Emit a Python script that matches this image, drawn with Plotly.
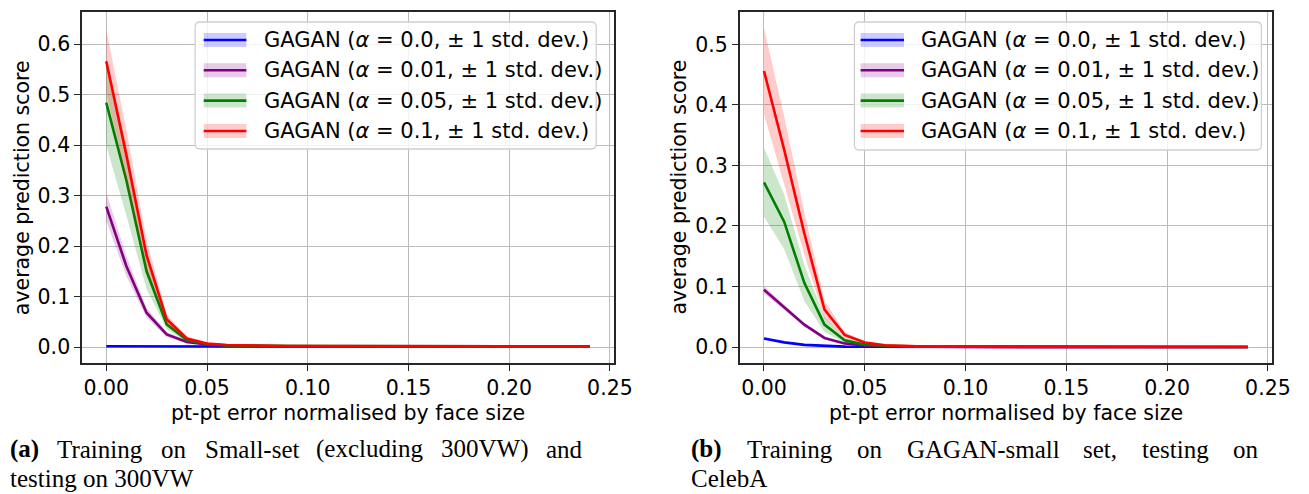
import plotly.graph_objects as go

W, H = 1309, 494

# ---------------- data ----------------
x_err = [0.00, 0.01, 0.02, 0.03, 0.04, 0.05, 0.06, 0.07, 0.08, 0.09, 0.10, 0.11, 0.12,
         0.13, 0.14, 0.15, 0.16, 0.17, 0.18, 0.19, 0.20, 0.21, 0.22, 0.23, 0.24]

labels = ["GAGAN (<i>α</i> = 0.0, ± 1 std. dev.)",
          "GAGAN (<i>α</i> = 0.01, ± 1 std. dev.)",
          "GAGAN (<i>α</i> = 0.05, ± 1 std. dev.)",
          "GAGAN (<i>α</i> = 0.1, ± 1 std. dev.)"]

# (a) 300VW
a_mean_00 = [0.0015, 0.0012, 0.0010, 0.0010, 0.0010, 0.0010, 0.0010, 0.0010, 0.0010, 0.0010, 0.0010, 0.0010, 0.0010,
             0.0010, 0.0010, 0.0010, 0.0010, 0.0010, 0.0010, 0.0010, 0.0010, 0.0010, 0.0010, 0.0010, 0.0010]
a_std_00 = [0.0006, 0.0005, 0.0004, 0.0004, 0.0004, 0.0004, 0.0004, 0.0004, 0.0004, 0.0004, 0.0004, 0.0004, 0.0004,
            0.0004, 0.0004, 0.0004, 0.0004, 0.0004, 0.0004, 0.0004, 0.0004, 0.0004, 0.0004, 0.0004, 0.0004]
a_mean_01 = [0.278, 0.160, 0.068, 0.025, 0.010, 0.005, 0.003, 0.002, 0.002, 0.0015, 0.0015, 0.0015, 0.0015,
             0.0012, 0.0012, 0.0012, 0.0012, 0.0011, 0.0011, 0.0011, 0.0010, 0.0010, 0.0010, 0.0010, 0.0010]
a_std_01 = [0.028, 0.020, 0.010, 0.005, 0.003, 0.002, 0.001, 0.0008, 0.0006, 0.0005, 0.0005, 0.0005, 0.0005,
            0.0004, 0.0004, 0.0004, 0.0004, 0.0004, 0.0004, 0.0004, 0.0004, 0.0004, 0.0004, 0.0004, 0.0004]
a_mean_05 = [0.484, 0.330, 0.150, 0.045, 0.014, 0.006, 0.003, 0.0025, 0.002, 0.002, 0.0018, 0.0018, 0.0018,
             0.0016, 0.0015, 0.0015, 0.0014, 0.0014, 0.0013, 0.0013, 0.0012, 0.0012, 0.0012, 0.0012, 0.0012]
a_std_05 = [0.085, 0.070, 0.035, 0.010, 0.004, 0.002, 0.001, 0.0008, 0.0006, 0.0005, 0.0005, 0.0005, 0.0005,
            0.0004, 0.0004, 0.0004, 0.0004, 0.0004, 0.0004, 0.0004, 0.0004, 0.0004, 0.0004, 0.0004, 0.0004]
a_mean_10 = [0.566, 0.380, 0.182, 0.055, 0.017, 0.007, 0.004, 0.003, 0.0025, 0.002, 0.002, 0.002, 0.002,
             0.0018, 0.0017, 0.0016, 0.0015, 0.0015, 0.0014, 0.0014, 0.0013, 0.0013, 0.0013, 0.0013, 0.0013]
a_std_10 = [0.062, 0.050, 0.030, 0.010, 0.004, 0.002, 0.001, 0.0008, 0.0006, 0.0005, 0.0005, 0.0005, 0.0005,
            0.0004, 0.0004, 0.0004, 0.0004, 0.0004, 0.0004, 0.0004, 0.0004, 0.0004, 0.0004, 0.0004, 0.0004]

# (b) CelebA
b_mean_00 = [0.0142, 0.0077, 0.0035, 0.0015, 0.0007, 0.0004, 0.0003, 0.0002, 0.0002, 0.0001, 0.0001, 0.0001, 0.0001,
             0.0001, 0.0001, 0.0001, 0.0001, 0.0001, 0.0001, 0.0001, 0.0001, 0.0001, 0.0001, 0.0001, 0.0001]
b_std_00 = [0.0020, 0.0012, 0.0006, 0.0003, 0.0002, 0.0001, 0.0001, 0.0001, 0.0001, 0.0001, 0.0001, 0.0001, 0.0001,
            0.0001, 0.0001, 0.0001, 0.0001, 0.0001, 0.0001, 0.0001, 0.0001, 0.0001, 0.0001, 0.0001, 0.0001]
b_mean_01 = [0.0945, 0.066, 0.037, 0.015, 0.006, 0.0025, 0.0012, 0.0006, 0.0004, 0.0003, 0.0002, 0.0002, 0.0002,
             0.0002, 0.0001, 0.0001, 0.0001, 0.0001, 0.0001, 0.0001, 0.0001, 0.0001, 0.0001, 0.0001, 0.0001]
b_std_01 = [0.006, 0.005, 0.003, 0.0015, 0.0008, 0.0004, 0.0002, 0.0001, 0.0001, 0.0001, 0.0001, 0.0001, 0.0001,
            0.0001, 0.0001, 0.0001, 0.0001, 0.0001, 0.0001, 0.0001, 0.0001, 0.0001, 0.0001, 0.0001, 0.0001]
b_mean_05 = [0.272, 0.207, 0.106, 0.037, 0.011, 0.004, 0.002, 0.001, 0.0006, 0.0004, 0.0003, 0.0002, 0.0002,
             0.0002, 0.0001, 0.0001, 0.0001, 0.0001, 0.0001, 0.0001, 0.0001, 0.0001, 0.0001, 0.0001, 0.0001]
b_std_05 = [0.057, 0.045, 0.030, 0.012, 0.004, 0.0015, 0.0008, 0.0004, 0.0002, 0.0001, 0.0001, 0.0001, 0.0001,
            0.0001, 0.0001, 0.0001, 0.0001, 0.0001, 0.0001, 0.0001, 0.0001, 0.0001, 0.0001, 0.0001, 0.0001]
b_mean_10 = [0.456, 0.326, 0.188, 0.062, 0.020, 0.0076, 0.003, 0.0015, 0.0008, 0.0005, 0.0003, 0.0002, 0.0002,
             0.0002, 0.0001, 0.0001, 0.0001, 0.0001, 0.0001, 0.0001, 0.0001, 0.0001, 0.0001, 0.0001, 0.0001]
b_std_10 = [0.071, 0.055, 0.035, 0.015, 0.005, 0.002, 0.001, 0.0005, 0.0003, 0.0002, 0.0001, 0.0001, 0.0001,
            0.0001, 0.0001, 0.0001, 0.0001, 0.0001, 0.0001, 0.0001, 0.0001, 0.0001, 0.0001, 0.0001, 0.0001]

x_ticks = [0.00, 0.05, 0.10, 0.15, 0.20, 0.25]
a_y_ticks = [0.0, 0.1, 0.2, 0.3, 0.4, 0.5, 0.6]
b_y_ticks = [0.0, 0.1, 0.2, 0.3, 0.4, 0.5]

x_title = "pt-pt error normalised by face size"
y_title = "average prediction score"

# ---------------- style ----------------
line_colors = ["#0000ff", "#800080", "#008000", "#ff0000"]
band_colors = ["rgba(0,0,255,0.2)", "rgba(128,0,128,0.2)", "rgba(0,128,0,0.2)", "rgba(255,0,0,0.2)"]
SANS = "DejaVu Sans"
SERIF = "Liberation Serif"


def px(x):
    return x / W


def py(y):
    return 1 - y / H


fig = go.Figure()

panels = [
    dict(xa="x", ya="y",
         means=[a_mean_00, a_mean_01, a_mean_05, a_mean_10],
         stds=[a_std_00, a_std_01, a_std_05, a_std_10]),
    dict(xa="x2", ya="y2",
         means=[b_mean_00, b_mean_01, b_mean_05, b_mean_10],
         stds=[b_std_00, b_std_01, b_std_05, b_std_10]),
]

for p in panels:
    for i in range(4):
        m, s = p["means"][i], p["stds"][i]
        upper = [mi + si for mi, si in zip(m, s)]
        lower = [mi - si for mi, si in zip(m, s)]
        fig.add_trace(go.Scatter(x=x_err, y=upper, mode="lines", line=dict(width=0),
                                 xaxis=p["xa"], yaxis=p["ya"], showlegend=False, hoverinfo="skip"))
        fig.add_trace(go.Scatter(x=x_err, y=lower, mode="lines", line=dict(width=0),
                                 fill="tonexty", fillcolor=band_colors[i],
                                 xaxis=p["xa"], yaxis=p["ya"], showlegend=False, hoverinfo="skip"))
        fig.add_trace(go.Scatter(x=x_err, y=m, mode="lines",
                                 line=dict(color=line_colors[i], width=2.6),
                                 xaxis=p["xa"], yaxis=p["ya"], showlegend=False, name=labels[i]))

axis_common = dict(showline=True, mirror=True, linecolor="#262626", linewidth=1.6,
                   ticks="outside", ticklen=6, tickwidth=1.4, tickcolor="#262626",
                   showgrid=True, gridcolor="#bcbcbc", gridwidth=1.3, zeroline=False,
                   tickfont=dict(family=SANS, size=20.5, color="black"))

y_dom = [py(363), py(12)]
fig.update_layout(
    width=W, height=H, margin=dict(l=0, r=0, t=0, b=0),
    plot_bgcolor="white", paper_bgcolor="white", showlegend=False,
    xaxis=dict(domain=[px(83.3), px(623)], range=[-0.012, 0.252], tickvals=x_ticks,
               ticktext=[f"{v:.2f}" for v in x_ticks], anchor="y", **axis_common),
    yaxis=dict(domain=y_dom, range=[-0.0316, 0.6636], tickvals=a_y_ticks,
               ticktext=[f"{v:.1f}" for v in a_y_ticks], anchor="x", **axis_common),
    xaxis2=dict(domain=[px(750.7), px(1290.7)], range=[-0.012, 0.252], tickvals=x_ticks,
                ticktext=[f"{v:.2f}" for v in x_ticks], anchor="y2", **axis_common),
    yaxis2=dict(domain=y_dom, range=[-0.0264, 0.5534], tickvals=b_y_ticks,
                ticktext=[f"{v:.1f}" for v in b_y_ticks], anchor="x2", **axis_common),
)

annotations = []
shapes = []

# axis titles
for xc, yc_x in [((83.3 + 623) / 2, 22), ((750.7 + 1290.7) / 2, 688)]:
    annotations.append(dict(x=px(xc), y=py(413), xref="paper", yref="paper", text=x_title,
                            showarrow=False, xanchor="center", yanchor="middle",
                            font=dict(family=SANS, size=20.5, color="black")))
    annotations.append(dict(x=px(yc_x), y=py(187.5), xref="paper", yref="paper", text=y_title,
                            showarrow=False, xanchor="center", yanchor="middle", textangle=-90,
                            font=dict(family=SANS, size=20.5, color="black")))


def rounded_box(x0, y0, x1, y1, r=5):
    X = lambda v: px(v)
    Y = lambda v: py(v)
    return (f"M {X(x0 + r)},{Y(y0)} L {X(x1 - r)},{Y(y0)} Q {X(x1)},{Y(y0)} {X(x1)},{Y(y0 + r)} "
            f"L {X(x1)},{Y(y1 - r)} Q {X(x1)},{Y(y1)} {X(x1 - r)},{Y(y1)} "
            f"L {X(x0 + r)},{Y(y1)} Q {X(x0)},{Y(y1)} {X(x0)},{Y(y1 - r)} "
            f"L {X(x0)},{Y(y0 + r)} Q {X(x0)},{Y(y0)} {X(x0 + r)},{Y(y0)} Z")


legend_boxes = [
    dict(box=(198, 22, 605, 149), hx0=206.7, hx1=250, tx=266),
    dict(box=(867, 22, 1280, 150), hx0=873.3, hx1=917.3, tx=933),
]
row_y = [40, 70.3, 100.6, 131]

for lb in legend_boxes:
    x0, y0, x1, y1 = lb["box"]
    shapes.append(dict(type="path", path=rounded_box(x0, y0, x1, y1), xref="paper", yref="paper",
                       fillcolor="rgba(255,255,255,0.8)", line=dict(color="#d0d0d0", width=1.3),
                       layer="above"))
    for i in range(4):
        yc = row_y[i]
        shapes.append(dict(type="rect", xref="paper", yref="paper",
                           x0=px(lb["hx0"]), x1=px(lb["hx1"]), y0=py(yc - 7), y1=py(yc + 7),
                           fillcolor=band_colors[i], line=dict(width=0), layer="above"))
        shapes.append(dict(type="line", xref="paper", yref="paper",
                           x0=px(lb["hx0"]), x1=px(lb["hx1"]), y0=py(yc), y1=py(yc),
                           line=dict(color=line_colors[i], width=2.6), layer="above"))
        annotations.append(dict(x=px(lb["tx"]), y=py(yc), xref="paper", yref="paper", text=labels[i],
                                showarrow=False, xanchor="left", yanchor="middle",
                                font=dict(family=SANS, size=21, color="black")))

# captions (justified first lines placed word by word)
cap_a1_words = ["<b>(a)</b>", "Training", "on", "Small-set", "(excluding", "300VW)", "and"]
cap_a1_x = [8, 56, 161.5, 205.5, 319, 445, 552]
cap_a2 = "testing on 300VW"
cap_b1_words = ["<b>(b)</b>", "Training", "on", "GAGAN-small", "set,", "testing", "on"]
cap_b1_x = [699, 755.5, 867.5, 918.5, 1096.5, 1156.5, 1249]
cap_b2 = "CelebA"

cap_font = dict(family=SERIF, size=25, color="black")
for words, xs in [(cap_a1_words, cap_a1_x), (cap_b1_words, cap_b1_x)]:
    for w_, xw in zip(words, xs):
        annotations.append(dict(x=px(xw), y=py(449), xref="paper", yref="paper", text=w_,
                                showarrow=False, xanchor="left", yanchor="middle", font=cap_font))
annotations.append(dict(x=px(8), y=py(478), xref="paper", yref="paper", text=cap_a2,
                        showarrow=False, xanchor="left", yanchor="middle", font=cap_font))
annotations.append(dict(x=px(699), y=py(478), xref="paper", yref="paper", text=cap_b2,
                        showarrow=False, xanchor="left", yanchor="middle", font=cap_font))

fig.update_layout(annotations=annotations, shapes=shapes)
fig.write_html("out.html")
